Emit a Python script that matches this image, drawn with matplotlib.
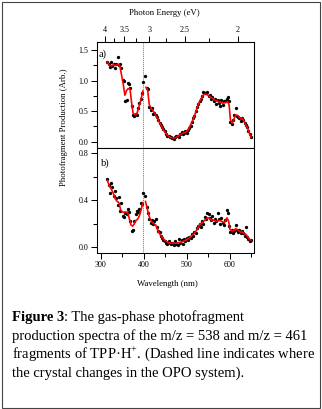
import matplotlib
matplotlib.use("Agg")
import matplotlib.pyplot as plt
from matplotlib import transforms
from matplotlib.patches import Rectangle
from matplotlib.ticker import MultipleLocator, FixedLocator, NullFormatter

plt.rcParams['font.family'] = ['Liberation Serif', 'DejaVu Serif']
plt.rcParams['mathtext.fontset'] = 'custom'
plt.rcParams['mathtext.rm'] = 'Liberation Serif'
plt.rcParams['mathtext.bf'] = 'Liberation Serif:bold'

# ---- panel a) m/z = 538 ----
a_dot_wl = [315, 318, 321, 324, 327, 330, 333, 336, 339, 342, 345, 348, 351, 354,
            357, 360, 363, 366, 369, 372, 375, 378, 381, 384, 387, 390, 393, 396, 399,
            404, 407, 410, 413, 416, 419, 422, 425, 428, 431, 434, 437, 440, 443, 446,
            449, 452, 455, 458, 461, 464, 467, 470, 473, 476, 479, 482, 485, 488, 491,
            494, 497, 500, 503, 506, 509, 512, 515, 518, 521, 524, 527, 530, 533, 536,
            539, 542, 545, 548, 551, 554, 557, 560, 563, 566, 569, 572, 575, 578, 581,
            584, 587, 590, 593, 596, 599, 602, 605, 608, 611, 614, 617, 620, 623, 626,
            629, 632, 635, 638, 641, 644, 647, 650]
a_dot_val = [1.31, 1.28, 1.22, 1.30, 1.24, 1.27, 1.21, 1.28, 1.39, 1.25, 1.28, 1.20, 1.01, 0.99,
             0.66, 0.69, 0.96, 0.95, 0.88, 0.58, 0.44, 0.42, 0.45, 0.43, 0.55, 0.63, 0.70, 0.80, 0.98,
             1.07, 0.88, 0.86, 0.56, 0.52, 0.55, 0.45, 0.47, 0.43, 0.40, 0.36, 0.30, 0.27, 0.24, 0.20,
             0.17, 0.13, 0.10, 0.09, 0.08, 0.07, 0.06, 0.05, 0.07, 0.09, 0.10, 0.08, 0.12, 0.16, 0.13,
             0.15, 0.17, 0.15, 0.19, 0.22, 0.26, 0.33, 0.38, 0.42, 0.50, 0.56, 0.61, 0.66, 0.70, 0.75,
             0.82, 0.80, 0.79, 0.81, 0.74, 0.77, 0.70, 0.73, 0.66, 0.70, 0.62, 0.69, 0.64, 0.58, 0.68,
             0.60, 0.66, 0.67, 0.70, 0.73, 0.66, 0.33, 0.29, 0.35, 0.44, 0.55, 0.42, 0.40, 0.38, 0.34,
             0.39, 0.36, 0.31, 0.27, 0.24, 0.18, 0.12, 0.08]

a_fit_wl_1 = [315, 320, 325, 330, 335, 340, 344, 348, 352, 356, 360, 364, 368, 372,
              375, 380, 384, 388, 392, 396, 398]
a_fit_val_1 = [1.30, 1.25, 1.24, 1.26, 1.25, 1.27, 1.25, 1.10, 0.95, 0.76, 0.84, 0.87, 0.86, 0.62,
               0.47, 0.44, 0.46, 0.55, 0.65, 0.76, 0.83]
a_fit_wl_2 = [405, 409, 413, 418, 422, 426, 432, 438, 444, 450, 456, 462, 468, 474, 480, 486,
              492, 498, 504, 510, 516, 520, 524, 528, 532, 536, 540, 544, 548, 554, 560, 566,
              572, 578, 584, 590, 596, 599, 602, 606, 610, 614, 618, 622, 626, 630, 634, 638,
              642, 646, 650]
a_fit_val_2 = [0.89, 0.85, 0.60, 0.54, 0.50, 0.46, 0.38, 0.30, 0.22, 0.15, 0.10, 0.07, 0.06, 0.065,
               0.09, 0.12, 0.14, 0.16, 0.20, 0.29, 0.38, 0.46, 0.55, 0.63, 0.68, 0.73, 0.77, 0.78,
               0.77, 0.74, 0.71, 0.68, 0.66, 0.65, 0.63, 0.64, 0.65, 0.60, 0.36, 0.30, 0.36, 0.44,
               0.43, 0.40, 0.38, 0.38, 0.33, 0.28, 0.22, 0.15, 0.07]

# ---- panel b) m/z = 461 ----
b_dot_wl = a_dot_wl
b_dot_val = [0.58, 0.53, 0.46, 0.55, 0.51, 0.44, 0.48, 0.42, 0.36, 0.43, 0.31, 0.38, 0.27, 0.26,
             0.29, 0.28, 0.33, 0.30, 0.22, 0.14, 0.15, 0.22, 0.28, 0.31, 0.30, 0.33, 0.38, 0.37, 0.46,
             0.44, 0.34, 0.29, 0.24, 0.21, 0.23, 0.20, 0.22, 0.24, 0.17, 0.14, 0.13, 0.10, 0.08, 0.06,
             0.05, 0.04, 0.03, 0.05, 0.04, 0.03, 0.04, 0.02, 0.05, 0.03, 0.02, 0.07, 0.04, 0.06, 0.03,
             0.07, 0.05, 0.08, 0.06, 0.09, 0.08, 0.11, 0.10, 0.13, 0.12, 0.16, 0.18, 0.20, 0.17, 0.22,
             0.20, 0.26, 0.24, 0.29, 0.28, 0.25, 0.23, 0.27, 0.21, 0.24, 0.22, 0.29, 0.24, 0.20, 0.25,
             0.21, 0.19, 0.23, 0.32, 0.29, 0.18, 0.13, 0.15, 0.12, 0.14, 0.19, 0.15, 0.13, 0.15, 0.12,
             0.14, 0.12, 0.10, 0.17, 0.09, 0.07, 0.05, 0.06]

b_fit_wl_1 = [315, 320, 325, 330, 334, 338, 342, 346, 350, 354, 358, 362, 366, 370, 374, 378,
              382, 386, 390, 394, 398]
b_fit_val_1 = [0.57, 0.52, 0.49, 0.45, 0.41, 0.39, 0.38, 0.32, 0.30, 0.30, 0.30, 0.30, 0.25, 0.19,
               0.18, 0.20, 0.23, 0.24, 0.27, 0.32, 0.38]
b_fit_wl_2 = [404, 408, 412, 416, 420, 424, 428, 432, 436, 440, 446, 452, 458, 464, 470, 476,
              482, 488, 494, 500, 506, 512, 518, 524, 530, 536, 542, 548, 552, 558, 564, 570,
              576, 582, 588, 594, 598, 601, 606, 610, 614, 618, 622, 626, 630, 634, 638, 642,
              646, 650]
b_fit_val_2 = [0.39, 0.33, 0.27, 0.23, 0.21, 0.20, 0.19, 0.15, 0.12, 0.10, 0.07, 0.05, 0.04, 0.035,
               0.035, 0.035, 0.04, 0.045, 0.055, 0.065, 0.08, 0.10, 0.12, 0.15, 0.19, 0.21, 0.23,
               0.25, 0.25, 0.23, 0.23, 0.22, 0.23, 0.22, 0.21, 0.25, 0.22, 0.15, 0.14, 0.14, 0.16,
               0.15, 0.14, 0.13, 0.13, 0.12, 0.11, 0.09, 0.07, 0.06]

crystal_change = 399
energy_major = [4, 3.5, 3, 2.5, 2]
energy_minor = [3.75, 3.25, 2.75, 2.25]

W, H = 322, 409
fig = plt.figure(figsize=(W / 100, H / 100), dpi=100)
fig.patch.set_facecolor('white')

def rect(left, top, right, bottom):
    return [left / W, 1 - bottom / H, (right - left) / W, (bottom - top) / H]

ax_a = fig.add_axes(rect(97, 42, 254, 147.5))
ax_b = fig.add_axes(rect(97, 147.5, 254, 253))

fs_tick = 5.8
for ax in (ax_a, ax_b):
    ax.set_xlim(291, 657)
    for s in ax.spines.values():
        s.set_linewidth(0.75)
    ax.xaxis.set_major_locator(MultipleLocator(100))
    ax.xaxis.set_minor_locator(MultipleLocator(50))
    ax.tick_params(which='both', direction='out', width=0.75, labelsize=fs_tick, pad=2,
                   top=False, right=False)
    ax.tick_params(which='major', length=4)
    ax.tick_params(which='minor', length=3)
    ax.axvline(crystal_change, color='#777777', lw=0.7, ls=(0, (1, 1)), zorder=1)

ax_a.set_ylim(-0.095, 1.632)
ax_a.yaxis.set_major_locator(MultipleLocator(0.5))
ax_a.yaxis.set_minor_locator(MultipleLocator(0.25))
ax_a.yaxis.set_major_formatter(plt.FormatStrFormatter('%.1f'))
ax_a.tick_params(axis='x', which='both', labelbottom=False, length=3)

ax_b.set_ylim(-0.0485, 0.849)
ax_b.yaxis.set_major_locator(MultipleLocator(0.4))
ax_b.yaxis.set_minor_locator(MultipleLocator(0.2))
ax_b.yaxis.set_major_formatter(plt.FormatStrFormatter('%.1f'))
ax_b.tick_params(axis='x', which='minor', length=3)

ax_a.plot(a_dot_wl, a_dot_val, 'o', color='black', ms=2.4, mew=0, zorder=2)
ax_a.plot(a_fit_wl_1, a_fit_val_1, color='red', lw=1.2, zorder=3)
ax_a.plot(a_fit_wl_2, a_fit_val_2, color='red', lw=1.2, zorder=3)
ax_b.plot(b_dot_wl, b_dot_val, 'o', color='black', ms=2.4, mew=0, zorder=2)
ax_b.plot(b_fit_wl_1, b_fit_val_1, color='red', lw=1.2, zorder=3)
ax_b.plot(b_fit_wl_2, b_fit_val_2, color='red', lw=1.2, zorder=3)

ax_a.text(0.012, 0.88, 'a)', transform=ax_a.transAxes, fontsize=7.5, va='center')
ax_b.text(0.028, 0.85, 'b)', transform=ax_b.transAxes, fontsize=7.5, va='center')

# photon energy axis on top
top = ax_a.twiny()
top.set_xlim(ax_a.get_xlim())
top.xaxis.set_major_locator(FixedLocator([1239.84 / e for e in energy_major]))
top.xaxis.set_minor_locator(FixedLocator([1239.84 / e for e in energy_minor]))
top.set_xticklabels([('%g' % e) for e in energy_major])
top.xaxis.set_minor_formatter(NullFormatter())
top.tick_params(which='both', direction='out', width=0.75, labelsize=fs_tick, pad=1.5)
top.tick_params(which='major', length=4)
top.tick_params(which='minor', length=3)
for s in top.spines.values():
    s.set_linewidth(0.75)

fs_lab = 6.3
fig.text(164.7 / W, 1 - 13.3 / H, 'Photon Energy (eV)', fontsize=fs_lab, ha='center', va='center')
fig.text(167.5 / W, 1 - 284 / H, 'Wavelength (nm)', fontsize=fs_lab, ha='center', va='center')
fig.text(63.5 / W, 1 - 127.5 / H, 'Photofragment Production (Arb.)', fontsize=fs_lab,
         rotation=90, ha='center', va='center')

# caption
fs_cap = 10.5
renderer = fig.canvas.get_renderer()
x0 = 11.7 / W
bold = fig.text(x0, 1 - 321.5 / H, 'Figure 3', fontsize=fs_cap, weight='bold', va='baseline')
bold.draw(renderer)
ex = bold.get_window_extent(renderer)
t = transforms.offset_copy(bold.get_transform(), fig=fig, x=ex.width, units='dots')
fig.text(x0, 1 - 321.5 / H, ': The gas-phase photofragment', fontsize=fs_cap,
         va='baseline', transform=t)
cap_lines = ['production spectra of the m/z = 538 and m/z = 461',
             'fragments of TPP\u00b7H$^{+}$. (Dashed line indicates where',
             'the crystal changes in the OPO system).']
for i, line in enumerate(cap_lines):
    fig.text(x0, 1 - (340 + 18.2 * i) / H, line, fontsize=fs_cap, va='baseline')

fig.patches.append(Rectangle((1.5 / W, 1.5 / H), 318.5 / W, 405.5 / H, transform=fig.transFigure,
                             fill=False, edgecolor='#444444', lw=0.8))

fig.savefig('out.png', dpi=100)
